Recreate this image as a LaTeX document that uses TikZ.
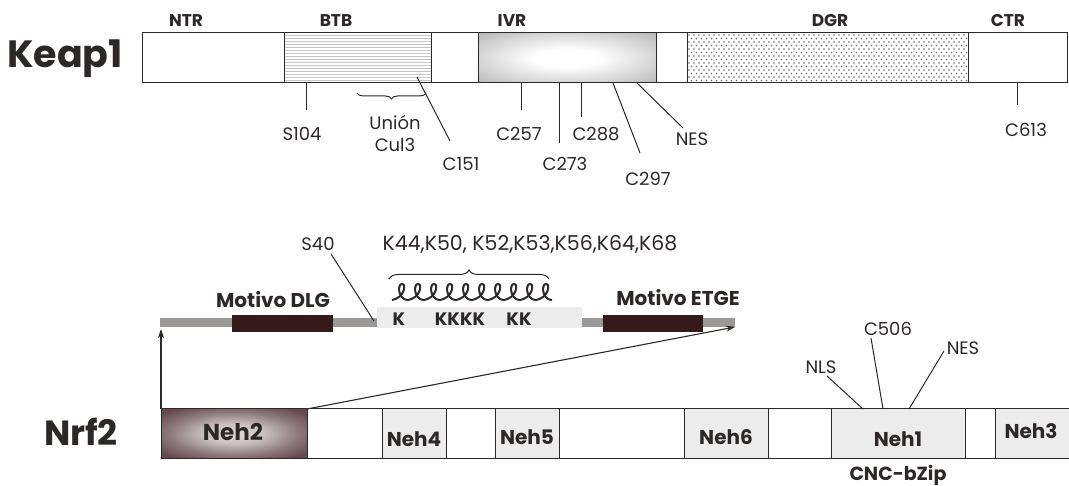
\documentclass[tikz,border=0pt]{standalone}
\usepackage{fontspec}
\setmainfont{Poppins}
\usetikzlibrary{patterns,decorations.pathreplacing,arrows.meta}
\definecolor{ink}{RGB}{45,40,40}
\definecolor{nehc}{RGB}{92,64,70}
\definecolor{motif}{RGB}{52,26,26}
\definecolor{lband}{RGB}{236,236,236}
\definecolor{gline}{RGB}{155,152,152}
\definecolor{dotc}{RGB}{110,110,110}
\pgfdeclareradialshading{ivrshade}{\pgfpoint{0bp}{0bp}}{color(0bp)=(white); color(9bp)=(white); color(26bp)=(gray!35); color(38bp)=(gray!62); color(72bp)=(gray!70)}
\pgfdeclareradialshading{nehshade}{\pgfpoint{0bp}{0bp}}{color(0bp)=(white!80!nehc); color(10bp)=(white!68!nehc); color(22bp)=(nehc!70); color(32bp)=(nehc!95); color(72bp)=(nehc)}
\tikzset{
  seg/.style={draw=ink, line width=1pt, inner sep=0pt, outer sep=0pt, anchor=north west},
  lab/.style={text=ink, inner sep=0pt, font=\fontsize{18}{22}\selectfont},
  blab/.style={text=ink, inner sep=0pt, font=\fontsize{17}{18}\selectfont\bfseries},
  nlab/.style={text=ink, inner sep=0pt, font=\fontsize{20}{22}\selectfont\bfseries},
  ttl/.style={text=ink, inner sep=0pt, font=\fontsize{38}{40}\selectfont\bfseries},
  tick/.style={draw=ink, line width=1pt},
  coilst/.style={draw=ink, line width=2pt},
  arr/.style={draw=ink, line width=1.1pt, -{Stealth[length=9pt,width=6pt]}},
  brc/.style={draw=ink, line width=1pt, decorate},
  dotst/.style={fill=dotc},
}
\begin{document}
\begin{tikzpicture}[x=1pt,y=-1pt]
\useasboundingbox (0,0) rectangle (1069,486);
% ---------------- Keap1 ----------------
\node[ttl] (keaptitle) at (65,59) {Keap1};
\node[seg, fill=white, minimum width=925, minimum height=50] (keap) at (142,33) {};
\node[seg, pattern=horizontal lines, pattern color=gray!45, minimum width=147, minimum height=50] (btb) at (284,33) {};
\node[seg, shade, shading=ivrshade, minimum width=178, minimum height=50] (ivr) at (478,33) {};
\node[seg, fill=white, minimum width=281, minimum height=50] (dgr) at (687,33) {};
\begin{scope}
  \clip (dgr.north west) rectangle (dgr.south east);
  \foreach \r in {0,...,14}{
    \pgfmathsetmacro{\yy}{35+3.5*\r}
    \pgfmathsetmacro{\off}{mod(\r,2)*2.5}
    \foreach \c in {0,...,56}{
      \fill[dotst] ({689+\off+5*\c},\yy) circle (0.85);
    }
  }
\end{scope}
\node[seg, minimum width=281, minimum height=50] (dgrb) at (687,33) {};
\node[blab] (ntr) at (186,21) {NTR};
\node[blab] (btbl) at (336,21) {BTB};
\node[blab] (ivrl) at (512,21) {IVR};
\node[blab] (dgrl) at (830,21) {DGR};
\node[blab] (ctrl) at (1008,21) {CTR};
% ticks
\coordinate (s104a) at (306,83); \coordinate (s104b) at (306,110);
\draw[tick] (s104a) -- (s104b);
\node[lab] (s104) at (302,134) {S104};
\coordinate (cula) at (426,93); \coordinate (culb) at (357,93);
\draw[brc, decoration={brace, amplitude=6pt}] (cula) -- (culb);
\node[lab, align=center] (cul3) at (395,133) {Unión\\Cul3};
\coordinate (c151a) at (417,77); \coordinate (c151b) at (450,141);
\draw[tick] (c151a) -- (c151b);
\node[lab] (c151) at (461,164) {C151};
\coordinate (c257a) at (521,83); \coordinate (c257b) at (521,110);
\draw[tick] (c257a) -- (c257b);
\node[lab] (c257) at (519,134) {C257};
\coordinate (c273a) at (559,83); \coordinate (c273b) at (559,143);
\draw[tick] (c273a) -- (c273b);
\node[lab] (c273) at (565,164) {C273};
\coordinate (c288a) at (581,83); \coordinate (c288b) at (581,117);
\draw[tick] (c288a) -- (c288b);
\node[lab] (c288) at (596,134) {C288};
\coordinate (c297a) at (613,83); \coordinate (c297b) at (640,153);
\draw[tick] (c297a) -- (c297b);
\node[lab] (c297) at (648,179) {C297};
\coordinate (nesa) at (637,83); \coordinate (nesb) at (683,128);
\draw[tick] (nesa) -- (nesb);
\node[lab] (nes) at (692,139) {NES};
\coordinate (c613a) at (1017,83); \coordinate (c613b) at (1017,105);
\draw[tick] (c613a) -- (c613b);
\node[lab] (c613) at (1026,130) {C613};
% ---------------- Nrf2 ----------------
\node[ttl, font=\fontsize{35}{38}\selectfont\bfseries] (nrftitle) at (81,432) {Nrf2};
\node[seg, fill=white, minimum width=915, minimum height=49] (nrf) at (161,409) {};
\node[seg, shade, shading=nehshade, minimum width=146, minimum height=49] (neh2) at (161,409) {};
\node[seg, fill=lband, minimum width=64, minimum height=49] (neh4) at (382,409) {};
\node[seg, fill=lband, minimum width=64, minimum height=49] (neh5) at (495,409) {};
\node[seg, fill=lband, minimum width=84, minimum height=49] (neh6) at (684,409) {};
\node[seg, fill=lband, minimum width=134, minimum height=49] (neh1) at (831,409) {};
\node[seg, fill=lband, minimum width=90, minimum height=49] (neh3) at (995,409) {};
\node[nlab, font=\fontsize{23}{24}\selectfont\bfseries] (neh2l) at (233,432) {Neh2};
\node[nlab] (neh4l) at (414,439) {Neh4};
\node[nlab] (neh5l) at (527,437) {Neh5};
\node[nlab] (neh6l) at (726,437) {Neh6};
\node[nlab] (neh1l) at (898,439) {Neh1};
\node[nlab] (neh3l) at (1031,431) {Neh3};
\node[blab, font=\fontsize{19}{20}\selectfont\bfseries] (cnc) at (898,475) {CNC-bZip};
% NLS, C506, NES
\coordinate (nlsa) at (863,409); \coordinate (nlsb) at (827,376);
\draw[tick] (nlsa) -- (nlsb);
\node[lab] (nls) at (821,367) {NLS};
\coordinate (c506a) at (883,409); \coordinate (c506b) at (871,338);
\draw[tick] (c506a) -- (c506b);
\node[lab] (c506) at (888,329) {C506};
\coordinate (nes2a) at (909,409); \coordinate (nes2b) at (944,351);
\draw[tick] (nes2a) -- (nes2b);
\node[lab] (nes2) at (963,348) {NES};
% ---------------- Neh2 expansion ----------------
\node[anchor=north west, fill=gline, inner sep=0pt, minimum width=575, minimum height=9] (gl) at (160,318) {};
\node[anchor=north west, fill=lband, inner sep=0pt, minimum width=205, minimum height=21] (kband) at (377,307) {};
\node[anchor=north west, fill=motif, inner sep=0pt, minimum width=101, minimum height=17] (dlg) at (232,315) {};
\node[anchor=north west, fill=motif, inner sep=0pt, minimum width=100, minimum height=17] (etge) at (603,315) {};
\node[nlab] (dlgl) at (273,300) {Motivo DLG};
\node[nlab] (etgel) at (678,298) {Motivo ETGE};
\node[blab, font=\fontsize{18}{18}\selectfont\bfseries] (k1) at (399,319) {K};
\node[blab, font=\fontsize{18}{18}\selectfont\bfseries] (k2) at (460,319) {KKKK};
\node[blab, font=\fontsize{18}{18}\selectfont\bfseries] (k3) at (519,319) {KK};
% helix
\draw[coilst] (392,300) \foreach \i in {0,...,9}{ .. controls ({392+16*\i+12},298) and ({392+16*\i+15},284) .. ({392+16*\i+10},284) .. controls ({392+16*\i+5},284) and ({392+16*\i+6},300) .. ({392+16*\i+16},300) };
\coordinate (ka) at (389,279); \coordinate (kb) at (549,279);
\draw[brc, decoration={brace, amplitude=9pt}] (ka) -- (kb);
\node[lab, font=\fontsize{20.5}{22}\selectfont] (klist) at (530,244) {K44,K50, K52,K53,K56,K64,K68};
\coordinate (s40a) at (374,321); \coordinate (s40b) at (331,254);
\draw[tick] (s40a) -- (s40b);
\node[lab] (s40) at (318,244) {S40};
% arrows
\coordinate (uptip) at (161,329);
\coordinate (righttip) at (735,327);
\draw[arr] (neh2.north west) -- (uptip);
\draw[arr] (neh2.north east) -- (righttip);
\end{tikzpicture}
\end{document}
